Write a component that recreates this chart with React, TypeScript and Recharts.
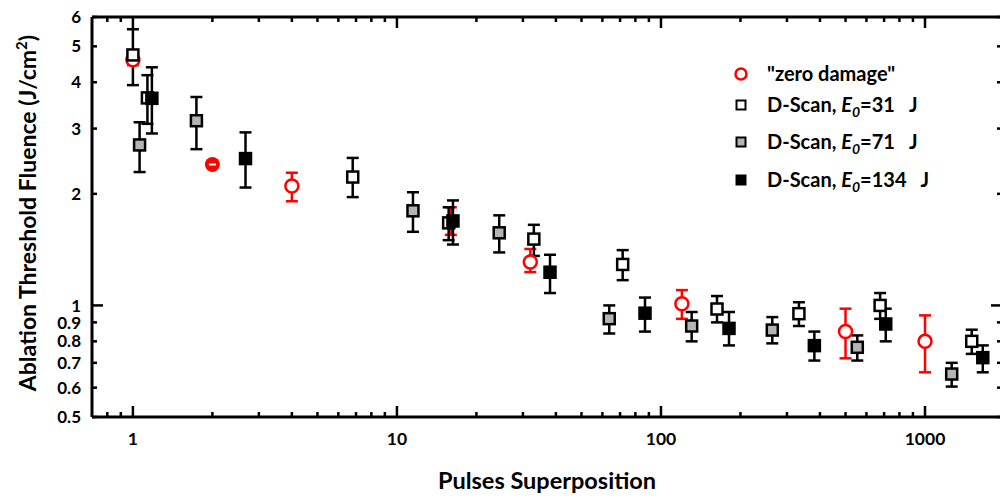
import React from "react";
import { ScatterChart, Scatter, XAxis, YAxis, ErrorBar, Legend, Label } from "recharts";

const FONT = "Lato, 'Open Sans', sans-serif";

// "zero damage"
const zeroX = [1, 2, 4, 16, 32, 120, 500, 1000];
const zeroY = [4.6, 2.4, 2.1, 1.68, 1.31, 1.01, 0.85, 0.8];
const zeroLo = [4.45, 2.364, 1.91, 1.55, 1.23, 0.92, 0.72, 0.66];
const zeroHi = [4.75, 2.453, 2.28, 1.84, 1.42, 1.1, 0.98, 0.94];

// D-Scan, E0 = 31
const e31X = [1, 1.135, 6.8, 15.7, 33, 71.6, 163, 333, 676, 1503];
const e31Y = [4.74, 3.63, 2.22, 1.67, 1.51, 1.29, 0.978, 0.95, 1.0, 0.8];
const e31Lo = [3.93, 3.09, 1.96, 1.5, 1.36, 1.17, 0.9, 0.88, 0.92, 0.74];
const e31Hi = [5.56, 4.18, 2.5, 1.84, 1.65, 1.41, 1.06, 1.02, 1.08, 0.86];

// D-Scan, E0 = 71
const e71X = [1.06, 1.74, 11.5, 24.4, 63.7, 130.7, 264, 554, 1262];
const e71Y = [2.71, 3.15, 1.8, 1.57, 0.921, 0.88, 0.858, 0.771, 0.653];
const e71Lo = [2.29, 2.64, 1.58, 1.39, 0.84, 0.8, 0.79, 0.71, 0.604];
const e71Hi = [3.12, 3.65, 2.02, 1.75, 1.0, 0.96, 0.93, 0.83, 0.7];

// D-Scan, E0 = 134
const e134X = [1.18, 2.67, 16.3, 38, 87, 181, 381, 710, 1655];
const e134Y = [3.62, 2.49, 1.69, 1.229, 0.953, 0.867, 0.779, 0.891, 0.723];
const e134Lo = [2.91, 2.08, 1.46, 1.08, 0.85, 0.78, 0.71, 0.8, 0.66];
const e134Hi = [4.39, 2.93, 1.92, 1.37, 1.05, 0.96, 0.85, 0.98, 0.78];

const X_MAJOR = [1, 10, 100, 1000];
const X_MINOR = [0.8, 0.9, 2, 3, 4, 5, 6, 7, 8, 9, 20, 30, 40, 50, 60, 70, 80, 90, 200, 300, 400, 500, 600, 700, 800, 900];
const Y_TICKS = [0.5, 0.6, 0.7, 0.8, 0.9, 1, 2, 3, 4, 5, 6];
const Y_MAJOR = [1];

const X_DOMAIN = [0.7, 1957];
const Y_DOMAIN = [0.5, 6];

const build = (xs: number[], ys: number[], lo: number[], hi: number[]) =>
  xs.map((x, i) => ({ x, y: ys[i], err: [ys[i] - lo[i], hi[i] - ys[i]] }));

const zeroData = build(zeroX, zeroY, zeroLo, zeroHi);
const e31Data = build(e31X, e31Y, e31Lo, e31Hi);
const e71Data = build(e71X, e71Y, e71Lo, e71Hi);
const e134Data = build(e134X, e134Y, e134Lo, e134Hi);

const X_TICKS = [...X_MAJOR, ...X_MINOR].sort((a, b) => a - b);

const BottomTick = (props: any) => {
  const { x, y, payload } = props;
  const major = X_MAJOR.includes(payload.value);
  return (
    <g>
      <line x1={x} x2={x} y1={y} y2={y - (major ? 11 : 5)} stroke="#000" strokeWidth={2.5} />
      {major && (
        <text x={x} y={y + 28} textAnchor="middle" fontFamily={FONT} fontWeight={700} fontSize={17.5} fill="#000">
          {payload.value}
        </text>
      )}
    </g>
  );
};

const TopTick = (props: any) => {
  const { x, y, payload } = props;
  const major = X_MAJOR.includes(payload.value);
  return <line x1={x} x2={x} y1={y} y2={y + (major ? 11 : 5)} stroke="#000" strokeWidth={2.5} />;
};

const LeftTick = (props: any) => {
  const { x, y, payload } = props;
  const major = Y_MAJOR.includes(payload.value);
  return (
    <g>
      <line x1={x} x2={x + (major ? 11 : 5)} y1={y} y2={y} stroke="#000" strokeWidth={2.5} />
      <text x={x - 11} y={y} dy="0.36em" textAnchor="end" fontFamily={FONT} fontWeight={700} fontSize={17} fill="#000">
        {payload.value}
      </text>
    </g>
  );
};

const RightTick = (props: any) => {
  const { x, y, payload } = props;
  const major = Y_MAJOR.includes(payload.value);
  return <line x1={x} x2={x - (major ? 11 : 5)} y1={y} y2={y} stroke="#000" strokeWidth={2.5} />;
};

const XTitle = (props: any) => {
  const { viewBox } = props;
  return (
    <text x={viewBox.x + viewBox.width / 2} y={viewBox.y + 72} textAnchor="middle" fontFamily={FONT} fontWeight={700} fontSize={23.5} fill="#000">
      Pulses Superposition
    </text>
  );
};

const YTitle = (props: any) => {
  const { viewBox } = props;
  const cx = viewBox.x + 36;
  const cy = viewBox.y + viewBox.height / 2 - 4;
  return (
    <text x={cx} y={cy} transform={`rotate(-90 ${cx} ${cy})`} textAnchor="middle" fontFamily={FONT} fontWeight={700} fontSize={23} fill="#000">
      Ablation Threshold Fluence (J/cm
      <tspan dy={-9} fontSize={15}>2</tspan>
      <tspan dy={9}>)</tspan>
    </text>
  );
};

const square = (fill: string) => (props: any) => (
  <rect x={props.cx - 5.5} y={props.cy - 5.5} width={11} height={11} fill={fill} stroke="#000" strokeWidth={2.5} />
);

// a point whose error bar sits inside the circle looks filled, with the caps showing as a white dash
const circle = (props: any) => {
  const { cx, cy, payload } = props;
  const tight = (payload.err[0] + payload.err[1]) / payload.y < 0.06;
  if (tight) {
    return (
      <g>
        <circle cx={cx} cy={cy} r={7.5} fill="#ff0000" />
        <line x1={cx - 3.5} x2={cx + 3.5} y1={cy} y2={cy} stroke="#fff" strokeWidth={2} />
      </g>
    );
  }
  return <circle cx={cx} cy={cy} r={6.5} fill="#fff" stroke="#ff0000" strokeWidth={2.5} />;
};

const legendRows = [
  { key: "zero", label: <>"zero damage"</>, mark: <circle cx={8} cy={8} r={5.5} fill="#fff" stroke="#ff0000" strokeWidth={2.5} />, gap: 0 },
  { key: "31", label: <>D-Scan, <i>E<sub style={{ fontSize: 14 }}>0</sub></i>=31&nbsp;&nbsp;&nbsp;J</>, mark: <rect x={3.5} y={3.5} width={9} height={9} fill="#fff" stroke="#000" strokeWidth={2} />, gap: 31 },
  { key: "71", label: <>D-Scan, <i>E<sub style={{ fontSize: 14 }}>0</sub></i>=71&nbsp;&nbsp;&nbsp;J</>, mark: <rect x={3.5} y={3.5} width={9} height={9} fill="#b4b4b4" stroke="#000" strokeWidth={2} />, gap: 37 },
  { key: "134", label: <>D-Scan, <i>E<sub style={{ fontSize: 14 }}>0</sub></i>=134&nbsp;&nbsp;&nbsp;J</>, mark: <rect x={3.5} y={3.5} width={9} height={9} fill="#000" stroke="#000" strokeWidth={2} />, gap: 38 },
];

const LegendBox = () => {
  let top = 0;
  return (
    <div style={{ position: "relative", width: 240, height: 0, fontFamily: FONT, fontWeight: 700, fontSize: 20, color: "#000" }}>
      {legendRows.map((r) => {
        top += r.gap;
        return (
          <div key={r.key} style={{ position: "absolute", left: 0, top, height: 0 }}>
            <svg width={16} height={16} style={{ position: "absolute", left: 0, top: -8 }}>{r.mark}</svg>
            <span style={{ position: "absolute", left: 34, top: -12, whiteSpace: "nowrap", lineHeight: "22px" }}>{r.label}</span>
          </div>
        );
      })}
    </div>
  );
};

export default function App() {
  const eb = { dataKey: "err", direction: "y" as const, width: 6, stroke: "#000", strokeWidth: 2.5, isAnimationActive: false };
  const axisLine = { stroke: "#000", strokeWidth: 3 };
  return (
    <div style={{ position: "absolute", left: 0, top: 0, width: 1000, height: 498, background: "#fff", overflow: "hidden" }}>
      <ScatterChart width={1003} height={498} margin={{ top: 0, right: 0, bottom: 0, left: 0 }}>
        <XAxis xAxisId="b" type="number" dataKey="x" scale="log" domain={X_DOMAIN} allowDataOverflow ticks={X_TICKS} interval={0}
          height={81} tickSize={0} tickMargin={0} tickLine={false} axisLine={axisLine} tick={<BottomTick />}>
          <Label content={<XTitle />} />
        </XAxis>
        <XAxis xAxisId="t" orientation="top" type="number" dataKey="x" scale="log" domain={X_DOMAIN} allowDataOverflow ticks={X_TICKS} interval={0}
          height={17} tickSize={0} tickMargin={0} tickLine={false} axisLine={axisLine} tick={<TopTick />} />
        <YAxis yAxisId="l" type="number" dataKey="y" scale="log" domain={Y_DOMAIN} allowDataOverflow ticks={Y_TICKS} interval={0}
          width={92} tickSize={0} tickMargin={0} tickLine={false} axisLine={axisLine} tick={<LeftTick />}>
          <Label content={<YTitle />} />
        </YAxis>
        <YAxis yAxisId="r" orientation="right" type="number" dataKey="y" scale="log" domain={Y_DOMAIN} allowDataOverflow ticks={Y_TICKS} interval={0}
          width={1} tickSize={0} tickMargin={0} tickLine={false} axisLine={axisLine} tick={<RightTick />} />
        <Legend content={<LegendBox />} height={0} wrapperStyle={{ position: "absolute", left: 733, top: 74, width: 240, height: 0 }} />
        <Scatter xAxisId="b" yAxisId="l" data={zeroData} shape={circle} isAnimationActive={false}>
          <ErrorBar {...eb} stroke="#ff0000" />
        </Scatter>
        <Scatter xAxisId="b" yAxisId="l" data={e31Data} shape={square("#fff")} isAnimationActive={false}>
          <ErrorBar {...eb} />
        </Scatter>
        <Scatter xAxisId="b" yAxisId="l" data={e71Data} shape={square("#b4b4b4")} isAnimationActive={false}>
          <ErrorBar {...eb} />
        </Scatter>
        <Scatter xAxisId="b" yAxisId="l" data={e134Data} shape={square("#000")} isAnimationActive={false}>
          <ErrorBar {...eb} />
        </Scatter>
      </ScatterChart>
    </div>
  );
}
